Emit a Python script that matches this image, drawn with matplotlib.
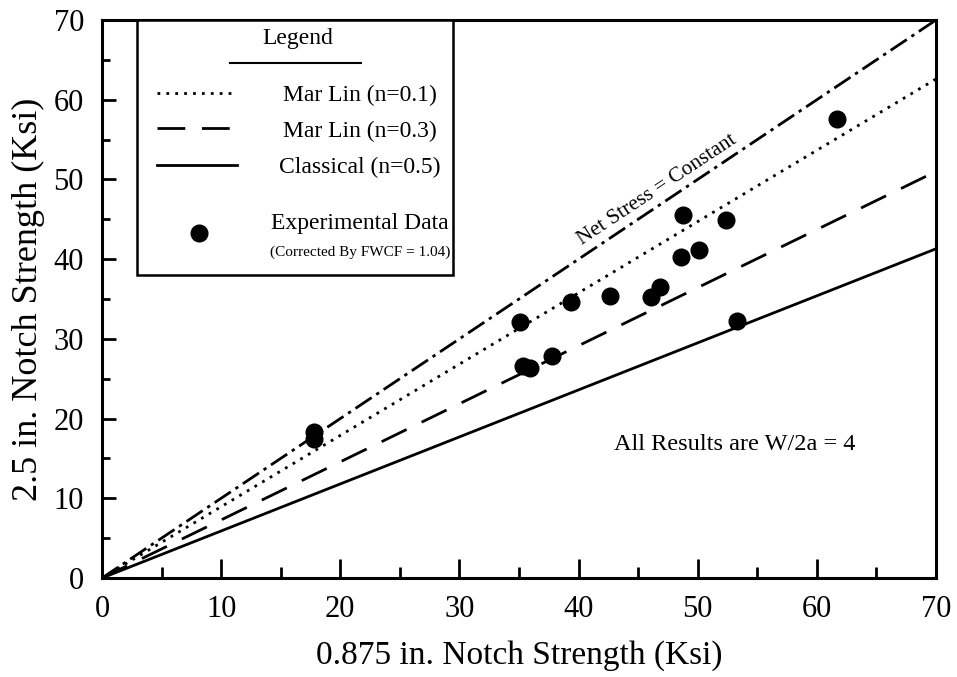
import matplotlib
matplotlib.use('Agg')
import matplotlib.pyplot as plt
from matplotlib.patches import Rectangle
from matplotlib.lines import Line2D

# experimental data (corrected by FWCF = 1.04)
notch_0875 = [17.8, 17.8, 35.1, 35.3, 35.9, 37.8, 39.4, 42.6, 46.1, 46.8,
              48.6, 48.8, 50.1, 52.4, 53.3, 61.7]
notch_25 = [18.3, 17.4, 32.1, 26.6, 26.4, 27.9, 34.6, 35.4, 35.2, 36.5,
            40.3, 45.6, 41.1, 44.9, 32.3, 57.6]

# prediction lines, value of 2.5 in. strength at 70 Ksi
x_end = 70
net_stress_end = 70.0
model_ends = [62.6, 51.0, 41.3]
model_labels = ['Mar Lin (n=0.1)', 'Mar Lin (n=0.3)', 'Classical (n=0.5)']
model_dashes = [(1, 2.2), (10, 6), None]

plt.rcParams['font.family'] = ['Liberation Serif', 'DejaVu Serif']

fig = plt.figure(figsize=(9.57, 6.77), dpi=100)
ax = fig.add_axes([102 / 957, 99 / 677, 834 / 957, 558 / 677])

lw = 2.0
ax.plot([0, x_end], [0, net_stress_end], color='black', lw=lw,
        dashes=(7, 2, 1.2, 2))
for yend, d in zip(model_ends, model_dashes):
    ln, = ax.plot([0, x_end], [0, yend], color='black', lw=lw)
    if d:
        ln.set_dashes(d)
ax.plot(notch_0875, notch_25, 'o', color='black', ms=12, zorder=5,
        clip_on=False)

ax.set_xlim(0, 70)
ax.set_ylim(0, 70)
ax.set_xticks(range(0, 71, 10))
ax.set_yticks(range(0, 71, 10))
ax.set_xticks(range(5, 70, 10), minor=True)
ax.set_yticks(range(5, 70, 10), minor=True)
ax.tick_params(axis='both', which='both', direction='in', width=2,
               labelsize=22)
ax.tick_params(axis='x', which='major', length=14, pad=12)
ax.tick_params(axis='x', which='minor', length=8)
ax.tick_params(axis='y', which='major', length=10, pad=13)
ax.tick_params(axis='y', which='minor', length=6)
for s in ax.spines.values():
    s.set_linewidth(2.2)

ax.set_xlabel('0.875 in. Notch Strength (Ksi)', fontsize=24, labelpad=12)
ax.set_ylabel('2.5 in. Notch Strength (Ksi)', fontsize=26, labelpad=6)

ax.text(46.6, 48.7, 'Net Stress = Constant', rotation=33.5, fontsize=15.4,
        ha='center', va='center')
ax.text(53.1, 16.7, 'All Results are W/2a = 4', fontsize=17.5,
        ha='center', va='center')

# hand-made legend box
T = ax.transAxes
ax.add_patch(Rectangle((0.042, 0.543), 0.379, 0.457, transform=T,
                       facecolor='white', edgecolor='black', lw=1.8,
                       zorder=6))
ax.text(0.235, 0.966, 'Legend', transform=T, fontsize=17, ha='center',
        va='center', zorder=7)
ax.add_line(Line2D([0.154, 0.31], [0.923, 0.923], transform=T,
                   color='black', lw=1.5, zorder=7))
rows = [0.869, 0.806, 0.740]
for lab, d, y in zip(model_labels, model_dashes, rows):
    sample = Line2D([0.066, 0.162], [y, y], transform=T, color='black',
                    lw=lw, zorder=7)
    if d:
        sample.set_dashes(d)
    ax.add_line(sample)
    ax.text(0.309, y - 0.005, lab, transform=T, fontsize=17, ha='center',
            va='center', zorder=7)
ax.plot([0.116], [0.618], 'o', color='black', ms=12, transform=T, zorder=7)
ax.text(0.309, 0.636, 'Experimental Data', transform=T, fontsize=17,
        ha='center', va='center', zorder=7)
ax.text(0.309, 0.584, '(Corrected By FWCF = 1.04)', transform=T,
        fontsize=11, ha='center', va='center', zorder=7)

fig.savefig('out.png', dpi=100)
